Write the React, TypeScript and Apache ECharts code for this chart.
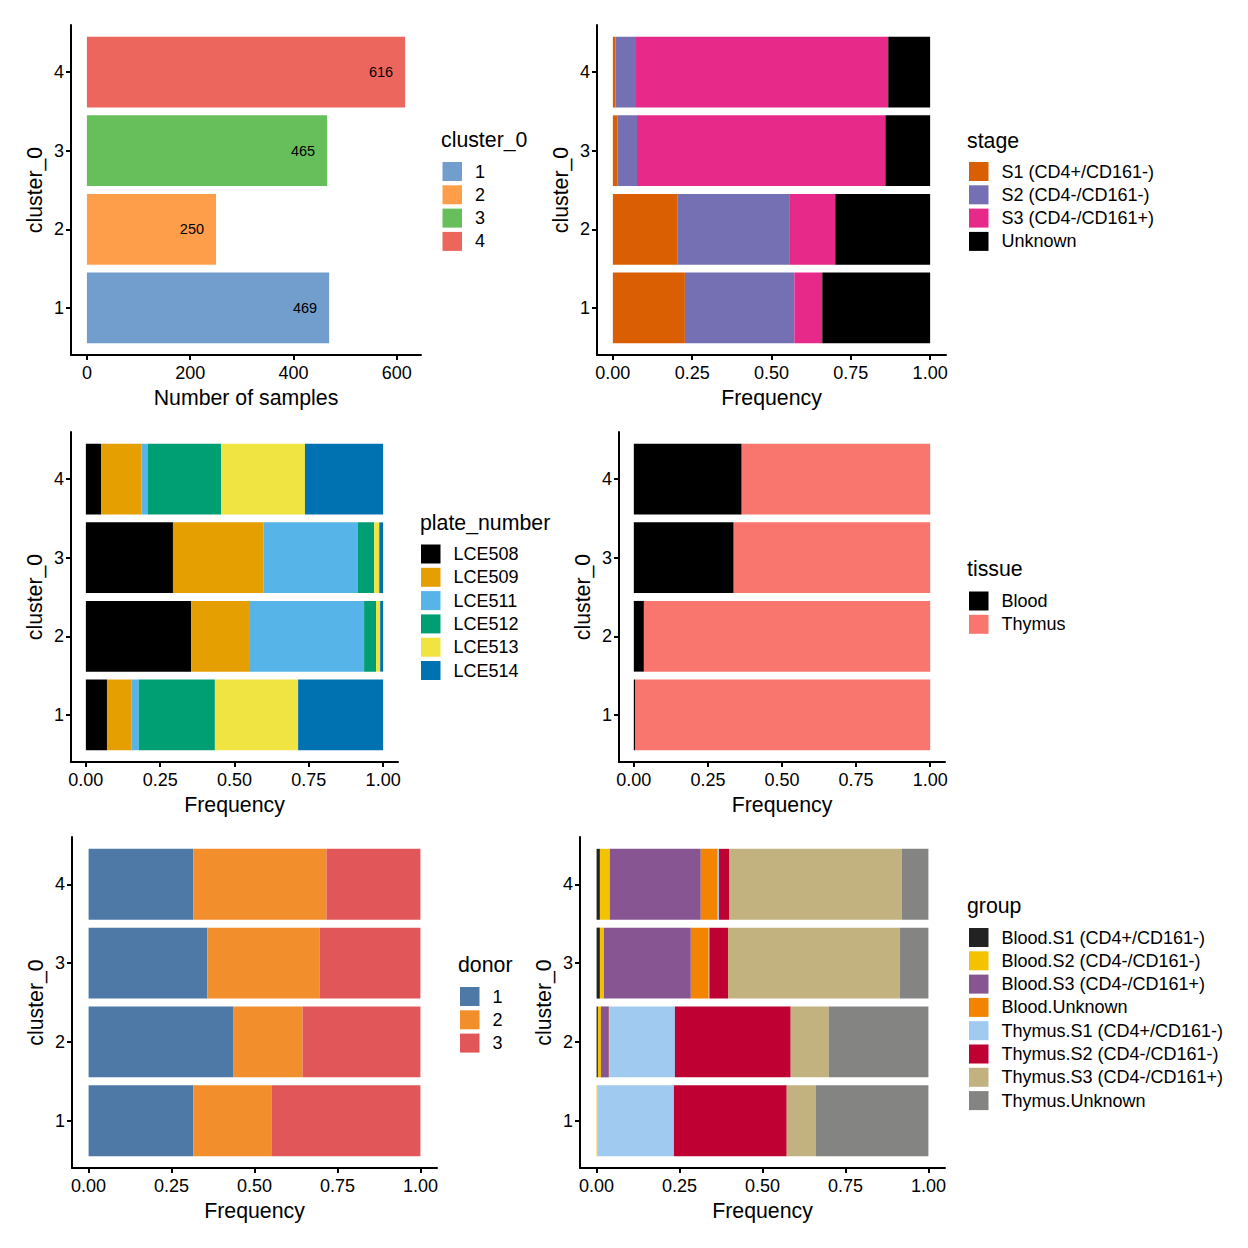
import React, { useEffect, useRef } from "react";
import * as echarts from "echarts";

const FONT = "Liberation Sans";

const clusters = [1, 2, 3, 4];
const clusterNames = ["1", "2", "3", "4"];
const clusterCounts = [469, 250, 465, 616];
const clusterColors = ["#729ECE", "#FF9E4A", "#67BF5C", "#ED665D"];
const countTicks = [0, 200, 400, 600];

const stageNames = ["S1 (CD4+/CD161-)", "S2 (CD4-/CD161-)", "S3 (CD4-/CD161+)", "Unknown"];
const stageColors = ["#D95F02", "#7570B3", "#E7298A", "#000000"];
const stageS1 = [0.227, 0.203, 0.014, 0.008];
const stageS2 = [0.345, 0.355, 0.062, 0.065];
const stageS3 = [0.088, 0.143, 0.783, 0.795];
const stageUnknown = [0.34, 0.299, 0.141, 0.132];

const plateNames = ["LCE508", "LCE509", "LCE511", "LCE512", "LCE513", "LCE514"];
const plateColors = ["#000000", "#E69F00", "#56B4E9", "#009E73", "#F0E442", "#0072B2"];
const plate508 = [0.071, 0.354, 0.293, 0.051];
const plate509 = [0.083, 0.195, 0.305, 0.136];
const plate511 = [0.024, 0.387, 0.317, 0.022];
const plate512 = [0.256, 0.04, 0.055, 0.246];
const plate513 = [0.28, 0.014, 0.017, 0.282];
const plate514 = [0.286, 0.01, 0.013, 0.263];

const tissueNames = ["Blood", "Thymus"];
const tissueColors = ["#000000", "#F8766D"];
const tissueBlood = [0.004, 0.034, 0.337, 0.364];
const tissueThymus = [0.996, 0.966, 0.663, 0.636];

const donorNames = ["1", "2", "3"];
const donorColors = ["#4E79A7", "#F28E2B", "#E15759"];
const donor1 = [0.316, 0.437, 0.358, 0.316];
const donor2 = [0.235, 0.208, 0.338, 0.401];
const donor3 = [0.449, 0.355, 0.304, 0.283];

const groupNames = [
  "Blood.S1 (CD4+/CD161-)",
  "Blood.S2 (CD4-/CD161-)",
  "Blood.S3 (CD4-/CD161+)",
  "Blood.Unknown",
  "Thymus.S1 (CD4+/CD161-)",
  "Thymus.S2 (CD4-/CD161-)",
  "Thymus.S3 (CD4-/CD161+)",
  "Thymus.Unknown",
];
const groupColors = ["#222222", "#F3C300", "#875692", "#F38400", "#A1CAF1", "#BE0032", "#C2B280", "#848482"];
const groupBloodS1 = [0.0, 0.004, 0.01, 0.01];
const groupBloodS2 = [0.003, 0.009, 0.012, 0.03];
const groupBloodS3 = [0.0, 0.024, 0.262, 0.274];
const groupBloodUnknown = [0.0, 0.001, 0.054, 0.051];
const groupThymusS1 = [0.23, 0.198, 0.002, 0.004];
const groupThymusS2 = [0.34, 0.349, 0.056, 0.03];
const groupThymusS3 = [0.088, 0.115, 0.518, 0.521];
const groupThymusUnknown = [0.339, 0.3, 0.086, 0.08];

const freqTicks = [0, 0.25, 0.5, 0.75, 1];

type PanelDef = {
  key: string;
  title: string;
  names: string[];
  colors: string[];
  values: number[][];
  grid: { left: number; top: number; width: number; height: number };
  legend: { left: number; top: number; titleX: number; titleY: number };
};

const panels: PanelDef[] = [
  {
    key: "stage",
    title: "stage",
    names: stageNames,
    colors: stageColors,
    values: [stageS1, stageS2, stageS3, stageUnknown],
    grid: { left: 597, top: 25, width: 349, height: 330 },
    legend: { left: 969, top: 162, titleX: 967, titleY: 141 },
  },
  {
    key: "plate",
    title: "plate_number",
    names: plateNames,
    colors: plateColors,
    values: [plate508, plate509, plate511, plate512, plate513, plate514],
    grid: { left: 71, top: 432, width: 327, height: 330 },
    legend: { left: 421, top: 544.5, titleX: 420, titleY: 523 },
  },
  {
    key: "tissue",
    title: "tissue",
    names: tissueNames,
    colors: tissueColors,
    values: [tissueBlood, tissueThymus],
    grid: { left: 619, top: 432, width: 326, height: 330 },
    legend: { left: 969, top: 591.5, titleX: 967, titleY: 569 },
  },
  {
    key: "donor",
    title: "donor",
    names: donorNames,
    colors: donorColors,
    values: [donor1, donor2, donor3],
    grid: { left: 72, top: 837, width: 365, height: 331 },
    legend: { left: 460, top: 987, titleX: 458, titleY: 965 },
  },
  {
    key: "group",
    title: "group",
    names: groupNames,
    colors: groupColors,
    values: [
      groupBloodS1,
      groupBloodS2,
      groupBloodS3,
      groupBloodUnknown,
      groupThymusS1,
      groupThymusS2,
      groupThymusS3,
      groupThymusUnknown,
    ],
    grid: { left: 580, top: 837, width: 365, height: 331 },
    legend: { left: 969, top: 928, titleX: 967, titleY: 906 },
  },
];

const axisLine = { show: true, onZero: false, lineStyle: { color: "#000", width: 2 } };
const axisTick = (vals: number[]) => ({
  show: true,
  length: 5,
  lineStyle: { color: "#000", width: 2 },
  customValues: vals,
});
const tickFont = { fontFamily: FONT, fontSize: 18, color: "#000" };
const titleFont = { fontFamily: FONT, fontSize: 21.3, color: "#000" };

function yAxisFor(gridIndex: number) {
  return {
    type: "value",
    gridIndex,
    min: 0.4,
    max: 4.6,
    axisLine,
    axisTick: axisTick(clusters),
    axisLabel: { ...tickFont, margin: 7, customValues: clusters, formatter: (v: number) => String(v) },
    splitLine: { show: false },
    name: "cluster_0",
    nameLocation: "middle",
    nameGap: 26,
    nameTextStyle: titleFont,
  };
}

function freqXAxis(gridIndex: number) {
  return {
    type: "value",
    gridIndex,
    min: -0.05,
    max: 1.05,
    axisLine,
    axisTick: axisTick(freqTicks),
    axisLabel: { ...tickFont, margin: 9, customValues: freqTicks, formatter: (v: number) => v.toFixed(2) },
    splitLine: { show: false },
    name: "Frequency",
    nameLocation: "middle",
    nameGap: 32,
    nameTextStyle: titleFont,
  };
}

function rectItem(params: any, api: any) {
  const s = api.coord([api.value(0), api.value(2)]);
  const e = api.coord([api.value(1), api.value(2)]);
  const h = api.size([0, 0.9])[1];
  return {
    type: "rect",
    shape: { x: s[0], y: s[1] - h / 2, width: e[0] - s[0], height: h },
    style: { fill: api.visual("color") },
  };
}

function buildOption() {
  const grids: any[] = [{ left: 71, top: 25, width: 350, height: 330 }];
  const xAxes: any[] = [
    {
      type: "value",
      gridIndex: 0,
      min: -30.8,
      max: 646.8,
      axisLine,
      axisTick: axisTick(countTicks),
      axisLabel: { ...tickFont, margin: 9, customValues: countTicks, formatter: (v: number) => String(v) },
      splitLine: { show: false },
      name: "Number of samples",
      nameLocation: "middle",
      nameGap: 32,
      nameTextStyle: titleFont,
    },
  ];
  const yAxes: any[] = [yAxisFor(0)];
  const series: any[] = [];
  const legends: any[] = [];
  const graphics: any[] = [];

  const legendBase = (left: number, top: number, data: string[]) => ({
    orient: "vertical",
    left,
    top,
    padding: 0,
    itemWidth: 19.5,
    itemHeight: 19,
    itemGap: 4.3,
    icon: "rect",
    selectedMode: false,
    data,
    formatter: (n: string) => n.slice(n.indexOf(":") + 1),
    textStyle: { fontFamily: FONT, fontSize: 18, color: "#000", lineHeight: 19, padding: [0, 0, 0, 8] },
  });

  // Panel 1: counts
  clusterNames.forEach((name, i) => {
    series.push({
      type: "custom",
      name: "cluster_0:" + name,
      xAxisIndex: 0,
      yAxisIndex: 0,
      itemStyle: { color: clusterColors[i] },
      encode: { x: [0, 1], y: 2 },
      data: [[0, clusterCounts[i], clusters[i]]],
      silent: true,
      renderItem: (params: any, api: any) => {
        const base = rectItem(params, api);
        const e = api.coord([api.value(1), api.value(2)]);
        return {
          type: "group",
          children: [
            base,
            {
              type: "text",
              x: e[0] - 12,
              y: e[1],
              style: {
                text: String(api.value(1)),
                align: "right",
                verticalAlign: "middle",
                fontFamily: FONT,
                fontSize: 14.5,
                fill: "#000",
              },
            },
          ],
        };
      },
    });
  });
  legends.push(legendBase(442.5, 162, clusterNames.map((n) => "cluster_0:" + n)));
  graphics.push({
    type: "text",
    x: 441,
    y: 140,
    style: { text: "cluster_0", ...titleFont, fill: "#000", verticalAlign: "middle" },
  });

  panels.forEach((p, pi) => {
    const gi = pi + 1;
    grids.push(p.grid);
    xAxes.push(freqXAxis(gi));
    yAxes.push(yAxisFor(gi));
    const cum = clusters.map(() => 0);
    p.names.forEach((name, si) => {
      const vals = p.values[si];
      const data = clusters.map((c, ci) => {
        const start = cum[ci];
        cum[ci] += vals[ci];
        return [start, cum[ci], c];
      });
      series.push({
        type: "custom",
        name: p.key + ":" + name,
        xAxisIndex: gi,
        yAxisIndex: gi,
        itemStyle: { color: p.colors[si] },
        encode: { x: [0, 1], y: 2 },
        data,
        silent: true,
        renderItem: rectItem,
      });
    });
    legends.push(legendBase(p.legend.left, p.legend.top, p.names.map((n) => p.key + ":" + n)));
    graphics.push({
      type: "text",
      x: p.legend.titleX,
      y: p.legend.titleY,
      style: { text: p.title, ...titleFont, fill: "#000", verticalAlign: "middle" },
    });
  });

  return {
    animation: false,
    backgroundColor: "#fff",
    textStyle: { fontFamily: FONT },
    grid: grids,
    xAxis: xAxes,
    yAxis: yAxes,
    legend: legends,
    series,
    graphic: graphics,
  };
}

export default function App() {
  const ref = useRef<HTMLDivElement>(null);
  useEffect(() => {
    if (!ref.current) return;
    const chart = echarts.init(ref.current, undefined, { renderer: "svg" });
    chart.setOption(buildOption() as any);
    return () => chart.dispose();
  }, []);
  return (
    <div
      ref={ref}
      style={{ position: "absolute", left: 0, top: 0, width: 1248, height: 1248, background: "#fff" }}
    />
  );
}
